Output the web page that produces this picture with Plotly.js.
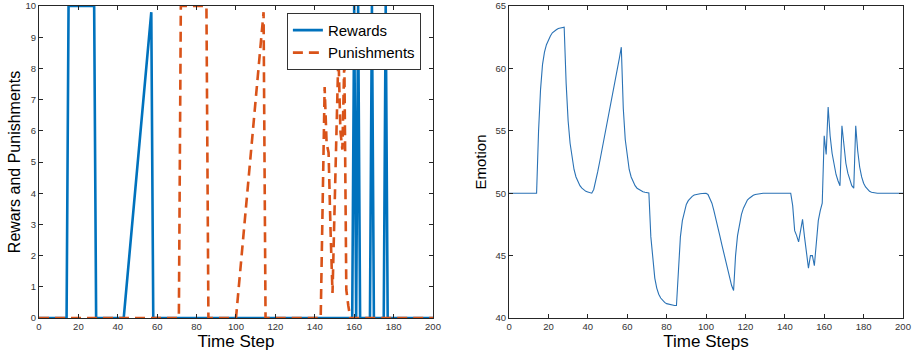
<!DOCTYPE html>
<html>
<head>
<meta charset="utf-8">
<script src="https://cdn.plot.ly/plotly-3.0.1.min.js"></script>
<style>html,body{margin:0;padding:0;background:#fff;}#chart{width:913px;height:354px;}</style>
</head>
<body>
<div id="chart"></div>
<script>
// Time steps 0..200
var timeSteps = [];
for (var i = 0; i <= 200; i++) timeSteps.push(i);

var rewards = [
  0,0,0,0,0,0,0,0,0,0,
  0,0,0,0,0,10,10,10,10,10,
  10,10,10,10,10,10,10,10,10,0,
  0,0,0,0,0,0,0,0,0,0,
  0,0,0,0,0.7,1.4,2.1,2.8,3.5,4.2,
  4.9,5.6,6.3,7.0,7.7,8.4,9.1,9.8,0,0,
  0,0,0,0,0,0,0,0,0,0,
  0,0,0,0,0,0,0,0,0,0,
  0,0,0,0,0,0,0,0,0,0,
  0,0,0,0,0,0,0,0,0,0,
  0,0,0,0,0,0,0,0,0,0,
  0,0,0,0,0,0,0,0,0,0,
  0,0,0,0,0,0,0,0,0,0,
  0,0,0,0,0,0,0,0,0,0,
  0,0,0,0,0,0,0,0,0,0,
  0,0,0,0,0,0,0,0,0,0,
  10,0,10,0,0,0,0,0,0,10,
  0,0,0,0,0,0,10,0,0,0,
  0,0,0,0,0,0,0,0,0,0,
  0,0,0,0,0,0,0,0,0,0,
  0
];

var punishments = [
  0,0,0,0,0,0,0,0,0,0,
  0,0,0,0,0,0,0,0,0,0,
  0,0,0,0,0,0,0,0,0,0,
  0,0,0,0,0,0,0,0,0,0,
  0,0,0,0,0,0,0,0,0,0,
  0,0,0,0,0,0,0,0,0,0,
  0,0,0,0,0,0,0,0,0,0,
  0,0,10,10,10,10,10,10,10,10,
  10,10,10,10,10,10,0,0,0,0,
  0,0,0,0,0,0,0,0,0,0,
  0,0.7,1.4,2.1,2.8,3.5,4.2,4.9,5.6,6.3,
  7.0,7.7,8.4,9.1,9.8,0,0,0,0,0,
  0,0,0,0,0,0,0,0,0,0,
  0,0,0,0,0,0,0,0,0,0,
  0,0,0,0,3.7,7.4,5.6,5.3,2.8,0.8,
  3.4,6.1,8.5,6.0,5.4,8.3,0.9,0.4,0,0,
  0,0,0,0,0,0,0,0,0,0,
  0,0,0,0,0,0,0,0,0,0,
  0,0,0,0,0,0,0,0,0,0,
  0,0,0,0,0,0,0,0,0,0,
  0
];

var emotion = [
  50,50,50,50,50,50,50,50,50,50,
  50,50,50,50,50,55.0,58.3,60.3,61.3,61.9,
  62.3,62.6,62.85,63.0,63.1,63.2,63.25,63.3,63.3,58.8,
  55.8,54.0,52.8,51.9,51.3,50.9,50.6,50.4,50.25,50.15,
  50.1,50.05,50.0,50.3,50.9,51.7,52.5,53.3,54.1,54.9,
  55.7,56.5,57.4,58.2,59.1,59.9,60.8,61.7,56.8,54.3,
  52.9,51.9,51.3,50.9,50.6,50.4,50.3,50.2,50.12,50.08,
  50.05,50.02,46.5,44.5,43.2,42.4,41.9,41.6,41.4,41.25,
  41.15,41.1,41.05,41.02,41.0,41.0,44.0,46.5,47.8,48.6,
  49.1,49.4,49.6,49.75,49.85,49.9,49.94,49.96,49.98,49.99,
  50,49.9,49.6,49.2,48.6,48.0,47.3,46.6,45.9,45.2,
  44.5,43.9,43.2,42.6,42.2,45.0,46.6,47.6,48.3,48.8,
  49.2,49.45,49.6,49.75,49.83,49.9,49.94,49.97,49.98,50,
  50,50,50,50,50,50,50,50,50,50,
  50,50,50,50,49.0,47.0,46.6,46.1,47.0,47.9,
  46.5,45.2,44.0,45.0,45.0,44.2,46.0,47.8,48.6,49.2,
  54.6,53.1,56.9,54.6,53.2,52.2,51.5,51.0,50.6,55.4,
  53.6,52.4,51.6,51.0,50.6,50.4,55.4,53.4,52.1,51.3,
  50.8,50.5,50.3,50.15,50.08,50.04,50,50,50,50,
  50,50,50,50,50,50,50,50,50,50,
  50
];

var xTicks = [0,20,40,60,80,100,120,140,160,180,200];
var leftYTicks = [0,1,2,3,4,5,6,7,8,9,10];
var rightYTicks = [40,45,50,55,60,65];

var BLUE = '#0072BD', ORANGE = '#D95319';
var FONT = 'Liberation Sans, Arial, Helvetica, sans-serif';

var traces = [
  {x: timeSteps, y: rewards, type: 'scatter', mode: 'lines', name: 'Rewards',
   line: {color: BLUE, width: 2.6}, xaxis: 'x', yaxis: 'y', cliponaxis: false},
  {x: timeSteps, y: punishments, type: 'scatter', mode: 'lines', name: 'Punishments',
   line: {color: ORANGE, width: 2.6, dash: '10px,6px'}, xaxis: 'x', yaxis: 'y', cliponaxis: false},
  {x: timeSteps, y: emotion, type: 'scatter', mode: 'lines', name: 'Emotion', showlegend: false,
   line: {color: '#2a72b5', width: 1.1}, xaxis: 'x2', yaxis: 'y2'}
];

function axisBase() {
  return {
    showgrid: false, zeroline: false, showline: true, mirror: 'ticks',
    linecolor: '#262626', linewidth: 1, ticks: 'inside', ticklen: 4, tickwidth: 1,
    tickcolor: '#262626', tickfont: {family: FONT, size: 9.5, color: '#333'}
  };
}

var xa = Object.assign(axisBase(), {domain: [0, 0.456], range: [0, 200], tickvals: xTicks,
  title: {text: 'Time Step', font: {family: FONT, size: 17, color: '#000'}, standoff: 2}, anchor: 'y'});
var ya = Object.assign(axisBase(), {domain: [0, 1], range: [0, 10], tickvals: leftYTicks,
  title: {text: 'Rewars and Punishments', font: {family: FONT, size: 16, color: '#000'}, standoff: 0}, anchor: 'x'});
var xa2 = Object.assign(axisBase(), {domain: [0.544, 1], range: [0, 200], tickvals: xTicks,
  title: {text: 'Time Steps', font: {family: FONT, size: 17, color: '#000'}, standoff: 2}, anchor: 'y2'});
var ya2 = Object.assign(axisBase(), {domain: [0, 1], range: [40, 65], tickvals: rightYTicks,
  title: {text: 'Emotion', font: {family: FONT, size: 15, color: '#000'}, standoff: 5}, anchor: 'x2'});

var layout = {
  width: 913, height: 354,
  margin: {l: 39, r: 10, t: 6, b: 36},
  paper_bgcolor: '#fff', plot_bgcolor: '#fff',
  showlegend: true,
  legend: {x: 0.442, y: 0.978, xanchor: 'right', yanchor: 'top',
    bgcolor: '#fff', bordercolor: '#333', borderwidth: 1,
    font: {family: FONT, size: 15, color: '#000'}, tracegroupgap: 0, itemwidth: 30},
  xaxis: xa, yaxis: ya, xaxis2: xa2, yaxis2: ya2
};

Plotly.newPlot('chart', traces, layout, {staticPlot: true, displayModeBar: false});
</script>
</body>
</html>
